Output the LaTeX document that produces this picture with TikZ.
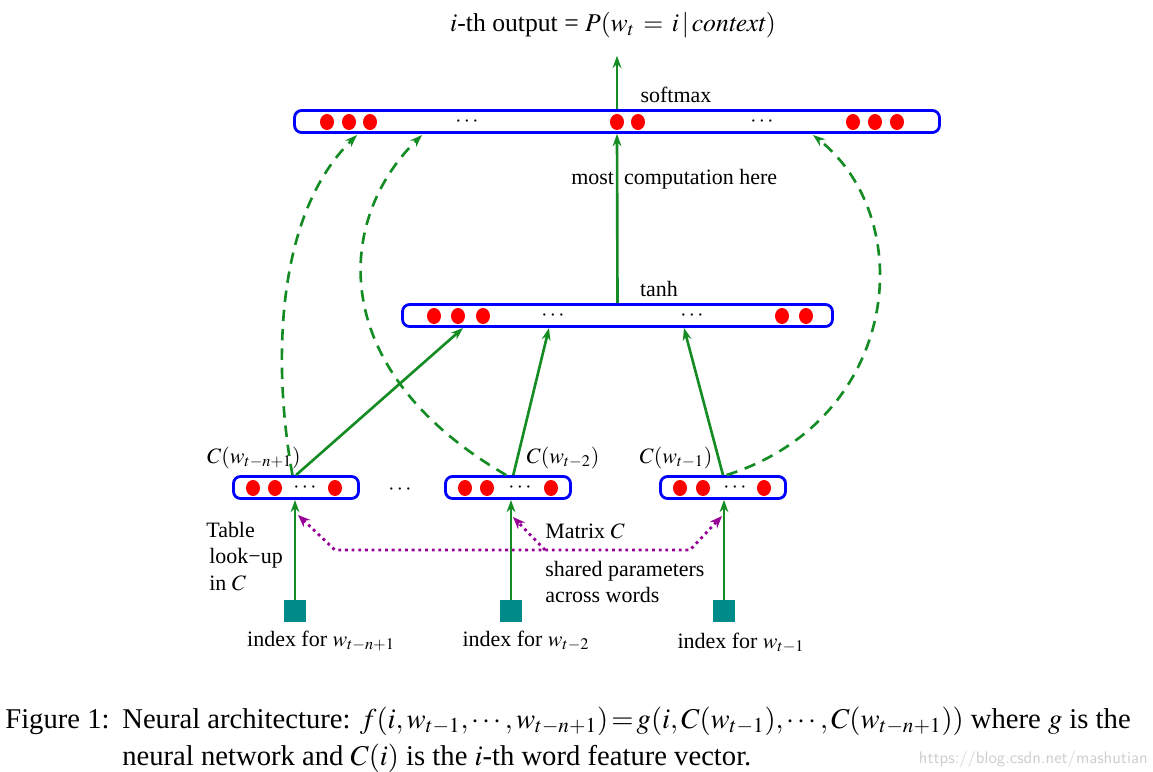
\documentclass[tikz,border=0pt]{standalone}
\usepackage{mathptmx}
\usepackage[no-math]{fontspec}
\setmainfont{Liberation Serif}
\usetikzlibrary{arrows.meta,calc}
\definecolor{lblue}{RGB}{0,0,255}
\definecolor{dred}{RGB}{255,0,0}
\definecolor{agreen}{RGB}{20,140,35}
\definecolor{sqteal}{RGB}{0,139,139}
\definecolor{purp}{RGB}{150,0,150}
\definecolor{wmark}{RGB}{205,205,205}
\tikzset{
  layer/.style={draw=lblue, line width=1.6pt, rounded corners=4pt, minimum height=0.44cm, inner sep=0pt, fill=white},
  garrow/.style={draw=agreen, line width=1.5pt, -{Stealth[length=7pt,width=5pt]}},
  gdash/.style={draw=agreen, line width=1.5pt, dash pattern=on 6.5pt off 4.5pt, -{Stealth[length=7pt,width=5pt]}},
  pdot/.style={draw=purp, line width=1.6pt, dash pattern=on 1.6pt off 2.2pt},
  ptip/.style={-{Stealth[length=7pt,width=5.5pt]}},
  idx/.style={fill=sqteal, minimum width=0.44cm, minimum height=0.44cm, inner sep=0pt},
  lab/.style={font=\fontsize{12.5}{15}\selectfont, inner sep=0pt},
  captext/.style={font=\fontsize{16.3}{19}\selectfont, inner sep=0pt},
}
\newcommand{\dotrow}[2]{\foreach \xx in {#1} \fill[dred] (\xx,#2) ellipse [x radius=0.14cm, y radius=0.16cm];}
\begin{document}
\begin{tikzpicture}[x=0.02cm,y=-0.02cm]
\useasboundingbox (0,0) rectangle (1153,771);
% layers
\node[layer, minimum width=12.9cm] (soft) at (617,121.5) {};
\node[layer, minimum width=8.6cm] (tanh) at (617.5,315.5) {};
\node[layer, minimum width=2.5cm] (b1) at (296,487.5) {};
\node[layer, minimum width=2.5cm] (b2) at (508,487.5) {};
\node[layer, minimum width=2.5cm] (b3) at (723,487.5) {};
% dots
\dotrow{327,349,370,617,638,853,875,897}{122}
\dotrow{434,458,483,782,806}{316}
\dotrow{253,275,335}{488}
\dotrow{465,487,551}{488}
\dotrow{680,703,764}{488}
\node[lab] (e1) at (467,122) {$\cdots$};
\node[lab] (e2) at (762,122) {$\cdots$};
\node[lab] (e3) at (553,316) {$\cdots$};
\node[lab] (e4) at (692,316) {$\cdots$};
\node[lab] (e5) at (305,488) {$\cdots$};
\node[lab] (e6) at (520,488) {$\cdots$};
\node[lab] (e7) at (735,488) {$\cdots$};
\node[lab] (e8) at (400,490) {$\cdots$};
% texts
\node[lab, font=\fontsize{14.6}{17}\selectfont] (title) at (613,25) {$i$-th output = $P(w_t\,=\,i\,|\,\mathit{context})$};
\node[lab, anchor=base] (smx) at (676,102) {softmax};
\node[lab, anchor=base west] (mch) at (571,184) {most\hspace{0.2cm}computation here};
\node[lab, anchor=base] (tnh) at (659,296) {tanh};
\node[lab, anchor=base] (c1) at (254,463) {$C(w_{t-n+1})$};
\node[lab, anchor=base] (c2) at (563,463) {$C(w_{t-2})$};
\node[lab, anchor=base] (c3) at (676,463) {$C(w_{t-1})$};
\node[lab, anchor=north west, align=left] (tbl) at (206,522) {Table\\\hspace*{0.06cm}look−up\\\hspace*{0.06cm}in $C$};
\node[lab, anchor=base west] (mat) at (545,538) {Matrix $C$};
\node[lab, anchor=north west, align=left] (shr) at (545,561) {shared parameters\\across words};
% index squares
\node[idx] (s1) at (295,611) {};
\node[idx] (s2) at (511,611) {};
\node[idx] (s3) at (724,611) {};
\node[lab, anchor=base] (i1) at (321,646) {index for $w_{t-n+1}$};
\node[lab, anchor=base] (i2) at (526,646) {index for $w_{t-2}$};
\node[lab, anchor=base] (i3) at (741,648) {index for $w_{t-1}$};
% solid arrows
\draw[garrow, shorten >=10pt] (soft.north) -- (soft.north |- title.south);
\draw[garrow] (tanh.north) -- (soft.south);
\coordinate (t1) at (463,328);
\coordinate (t2) at (549,328);
\coordinate (t3) at (684,328);
\draw[garrow] (b1.north) -- (t1);
\draw[garrow] ([xshift=3pt]b2.north) -- (t2);
\draw[garrow] (b3.north) -- (t3);
\draw[garrow] (s1.north) -- (s1.north |- b1.south);
\draw[garrow] (s2.north) -- (s2.north |- b2.south);
\draw[garrow] (s3.north) -- (s3.north |- b3.south);
% dashed curves
\coordinate (d1) at (357,135);
\coordinate (d2) at (422,135);
\coordinate (d3) at (813,135);
\draw[gdash] ([xshift=-2pt]b1.north) .. controls (275,380) and (270,220) .. (d1);
\draw[gdash] ([xshift=-1pt]b2.north) .. controls (325,370) and (335,220) .. (d2);
\draw[gdash] ([xshift=2pt]b3.north) .. controls (900,420) and (920,220) .. (d3);
% purple shared parameters
\coordinate (p1) at (298,515);
\coordinate (p2) at (513,517);
\coordinate (p3) at (722,516);
\coordinate (q1) at (335,550);
\coordinate (q2) at (690,550);
\coordinate (q3) at (545,550);
\draw[pdot, {Stealth[length=7pt,width=5.5pt]}-{Stealth[length=7pt,width=5.5pt]}] (p1) -- (q1) -- (q2) -- (p3);
\draw[pdot, ptip] (q3) -- (p2);
% caption
\node[captext, anchor=base west] (fig) at (5,728) {Figure 1:};
\node[captext, anchor=base west] (cap1) at (122,728) {Neural architecture: $f(i,w_{t-1},\cdots,w_{t-n+1})\,{=}\,g(i,C(w_{t-1}),\cdots,C(w_{t-n+1}))$ where $g$ is the};
\node[captext, anchor=base west] (cap2) at (122,765) {neural network and $C(i)$ is the $i$-th word feature vector.};
\node[inner sep=0pt, anchor=base east, text=wmark, font=\sffamily\fontsize{9.5}{11}\selectfont] (wm) at (1148,763) {https://blog.csdn.net/mashutian};
\end{tikzpicture}
\end{document}
